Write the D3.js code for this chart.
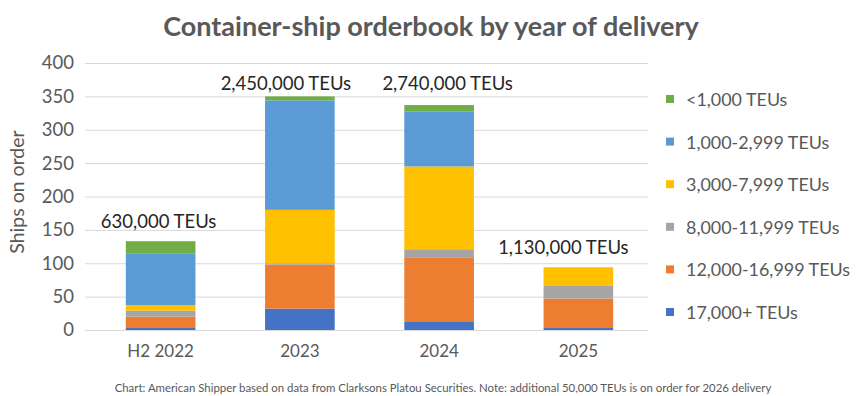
<!DOCTYPE html>
<html>
<head>
<meta charset="utf-8">
<script src="https://cdn.jsdelivr.net/npm/d3@7"></script>
<style>
	body { margin: 0; background: #fff; }
	text { font-family: Lato, "Open Sans", sans-serif; }
</style>
</head>
<body>
<svg id="chart" width="866" height="396"></svg>
<script>
var YEARS = ["H2 2022", "2023", "2024", "2025"];
var SIZES = ["17,000+ TEUs", "12,000-16,999 TEUs", "8,000-11,999 TEUs", "3,000-7,999 TEUs", "1,000-2,999 TEUs", "<1,000 TEUs"];
var KEYS = ["s17000", "s12000", "s8000", "s3000", "s1000", "s0"];
var COLORS = ["#4472C4", "#ED7D31", "#A5A5A5", "#FFC000", "#5B9BD5", "#70AD47"];

// ships on order per size band, one list per year (bottom to top)
var H2_2022 = [3, 17, 9, 8, 78, 18];
var Y2023 = [32, 66, 2, 80, 164, 6];
var Y2024 = [12, 97, 12, 124, 82, 10];
var Y2025 = [3, 44, 19, 28, 0, 0];

var TEU_LABELS = ["630,000 TEUs", "2,450,000 TEUs", "2,740,000 TEUs", "1,130,000 TEUs"];
var Y_TICKS = [0, 50, 100, 150, 200, 250, 300, 350, 400];

var svg = d3.select("#chart");
var margin = {left: 91, right: 218, top: 63, bottom: 66};
var width = 866 - margin.left - margin.right,
	height = 396 - margin.top - margin.bottom;

var rows = [H2_2022, Y2023, Y2024, Y2025].map(function(vals, i) {
	var r = {year: YEARS[i]};
	KEYS.forEach(function(k, j) { r[k] = vals[j]; });
	return r;
});

var x = d3.scaleBand().domain(YEARS).range([0, width]).paddingInner(0.5).paddingOuter(0.25);
var y = d3.scaleLinear().domain([0, 400]).range([height, 0]);
var color = d3.scaleOrdinal().domain(KEYS).range(COLORS);

var g = svg.append("g").attr("transform", "translate(" + margin.left + "," + margin.top + ")");

// gridlines
g.append("g")
	.call(d3.axisLeft(y).tickValues(Y_TICKS).tickSize(-width - 6).tickFormat(""))
	.call(function(a) {
		a.select(".domain").remove();
		a.selectAll("line").attr("stroke", "#d9d9d9").attr("transform", "translate(-6,0)");
	});

// y tick labels
g.append("g")
	.call(d3.axisLeft(y).tickValues(Y_TICKS).tickSize(0).tickPadding(17))
	.call(function(a) {
		a.select(".domain").remove();
		a.selectAll("text").attr("fill", "#595959").attr("font-size", 18.5);
	});

// stacked bars
var stack = d3.stack().keys(KEYS)(rows);
g.selectAll(".layer")
	.data(stack)
	.join("g")
	.attr("class", "layer")
	.attr("fill", function(d) { return color(d.key); })
	.selectAll("rect")
	.data(function(d) { return d; })
	.join("rect")
	.attr("x", function(d) { return x(d.data.year); })
	.attr("y", function(d) { return y(d[1]); })
	.attr("width", x.bandwidth())
	.attr("height", function(d) { return y(d[0]) - y(d[1]); });

// x axis labels
g.append("g")
	.attr("transform", "translate(0," + height + ")")
	.call(d3.axisBottom(x).tickSize(0).tickPadding(15))
	.call(function(a) {
		a.select(".domain").remove();
		a.selectAll("text").attr("fill", "#595959").attr("font-size", 17);
	});

// TEU capacity labels over the bars (text boxes, not quite centred)
var labelDx = [-2, -14, 8.5, -15];
g.selectAll(".teu")
	.data(rows)
	.join("text")
	.attr("class", "teu")
	.attr("x", function(d, i) { return x(d.year) + x.bandwidth() / 2 + labelDx[i]; })
	.attr("y", function(d, i) { return i === 1 || i === 2 ? y(359) : y(d3.sum(KEYS, function(k) { return d[k]; })) - 13; })
	.attr("text-anchor", "middle")
	.attr("fill", "#262626")
	.attr("font-size", 18.5)
	.text(function(d, i) { return TEU_LABELS[i]; });

// y axis title
svg.append("text")
	.attr("transform", "translate(24,192) rotate(-90)")
	.attr("text-anchor", "middle")
	.attr("fill", "#595959")
	.attr("font-size", 19.5)
	.text("Ships on order");

// title
svg.append("text")
	.attr("x", 431)
	.attr("y", 36)
	.attr("text-anchor", "middle")
	.attr("fill", "#595959")
	.attr("font-weight", "bold")
	.attr("font-size", 27)
	.text("Container-ship orderbook by year of delivery");

// legend, top item is the last key
var legend = svg.append("g").attr("transform", "translate(666,99)");
var legendKeys = KEYS.slice().reverse();
legendKeys.forEach(function(k, i) {
	var idx = KEYS.indexOf(k);
	legend.append("rect")
		.attr("x", 0)
		.attr("y", i * 42.6 - 4)
		.attr("width", 8)
		.attr("height", 8)
		.attr("fill", COLORS[idx]);
	legend.append("text")
		.attr("x", 20)
		.attr("y", i * 42.6)
		.attr("dominant-baseline", "central")
		.attr("fill", "#595959")
		.attr("font-size", 17.9)
		.text(SIZES[idx]);
});

// footer
svg.append("text")
	.attr("x", 443)
	.attr("y", 392)
	.attr("text-anchor", "middle")
	.attr("fill", "#595959")
	.attr("font-size", 11.4)
	.text("Chart: American Shipper based on data from Clarksons Platou Securities. Note: additional 50,000 TEUs is on order for 2026 delivery");
</script>
</body>
</html>
